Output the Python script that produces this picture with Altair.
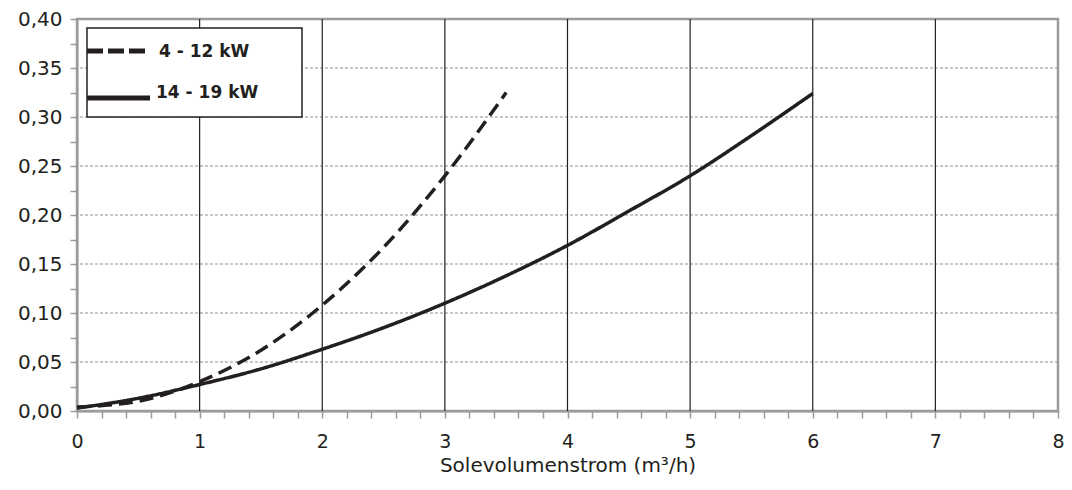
import altair as alt
import pandas as pd

# ---- data ----
series_names = ["4 - 12 kW", "14 - 19 kW"]

x_small = [0.0, 0.5, 1.0, 1.5, 2.0, 2.5, 3.0, 3.5]
y_small = [0.004, 0.010, 0.030, 0.062, 0.108, 0.167, 0.240, 0.325]

x_large = [0.0, 0.5, 1.0, 1.5, 2.0, 2.5, 3.0, 3.5, 4.0, 4.5, 5.0, 5.5, 6.0]
y_large = [0.003, 0.013, 0.027, 0.043, 0.063, 0.085, 0.110, 0.138, 0.169, 0.204, 0.240, 0.281, 0.324]

x_ticks = [round(i * 0.2, 1) for i in range(41)]
y_ticks = [round(i * 0.025, 3) for i in range(17)]
x_grid = [1, 2, 3, 4, 5, 6, 7]
y_grid = [0.05, 0.10, 0.15, 0.20, 0.25, 0.30, 0.35]

lines_df = pd.concat([
    pd.DataFrame({"x": x_small, "y": y_small, "series": series_names[0]}),
    pd.DataFrame({"x": x_large, "y": y_large, "series": series_names[1]}),
])

FONT = "DejaVu Sans"
INK = "#231f20"
GRAY = "#9b9b9b"

x_axis = alt.Axis(
    values=x_ticks,
    labelExpr="abs(datum.value - round(datum.value)) < 0.001 ? format(datum.value, 'd') : ''",
    title="Solevolumenstrom (m³/h)",
    grid=False,
    tickSize=7,
    labelPadding=14,
    titlePadding=4,
    labelFontSize=19,
    labelOverlap=False,
    labelFlush=False,
)
y_axis = alt.Axis(
    values=y_ticks,
    labelExpr="round(datum.value * 40) % 2 == 0 ? replace(format(datum.value, '.2f'), '.', ',') : ''",
    title=None,
    grid=False,
    tickSize=7,
    labelPadding=8,
    labelFontSize=20,
    labelOverlap=False,
    labelFlush=False,
)
x_scale = alt.Scale(domain=[0, 8], nice=False)
y_scale = alt.Scale(domain=[0, 0.4], nice=False)

hgrid = alt.Chart(pd.DataFrame({"y": y_grid})).mark_rule(
    color="#8f8f8f", strokeWidth=1, strokeDash=[3, 2]
).encode(y=alt.Y("y:Q", scale=y_scale, axis=y_axis))

vgrid = alt.Chart(pd.DataFrame({"x": x_grid})).mark_rule(
    color=INK, strokeWidth=1.2
).encode(x=alt.X("x:Q", scale=x_scale, axis=x_axis))

lines = alt.Chart(lines_df).mark_line(
    color=INK, strokeWidth=3.5, interpolate="monotone"
).encode(
    x=alt.X("x:Q", scale=x_scale, axis=x_axis),
    y=alt.Y("y:Q", scale=y_scale, axis=y_axis),
    strokeDash=alt.StrokeDash(
        "series:N",
        scale=alt.Scale(domain=series_names, range=[[14, 7], [1, 0]]),
        legend=None,
    ),
    detail="series:N",
)

legend_box = alt.Chart(pd.DataFrame({"k": [0]})).mark_rect(
    fill="white", stroke=INK, strokeWidth=1.5
).encode(x=alt.value(10), x2=alt.value(225), y=alt.value(9), y2=alt.value(98))

legend_dash = alt.Chart(pd.DataFrame({"k": [0]})).mark_rule(
    color=INK, strokeWidth=5, strokeDash=[16, 5]
).encode(x=alt.value(10), x2=alt.value(71), y=alt.value(32))

legend_solid = alt.Chart(pd.DataFrame({"k": [0]})).mark_rule(
    color=INK, strokeWidth=5
).encode(x=alt.value(10), x2=alt.value(73), y=alt.value(79))

legend_t1 = alt.Chart(pd.DataFrame({"k": [0]})).mark_text(
    align="left", baseline="middle", font=FONT, fontSize=17, fontWeight="bold", color=INK
).encode(x=alt.value(82), y=alt.value(33), text=alt.value(series_names[0]))

legend_t2 = alt.Chart(pd.DataFrame({"k": [0]})).mark_text(
    align="left", baseline="middle", font=FONT, fontSize=17, fontWeight="bold", color=INK
).encode(x=alt.value(79), y=alt.value(74), text=alt.value(series_names[1]))

chart = alt.layer(
    hgrid, vgrid, lines, legend_box, legend_dash, legend_solid, legend_t1, legend_t2
).properties(
    width=981,
    height=392,
    autosize=alt.AutoSizeParams(type="none"),
    padding={"left": 69, "top": 11, "right": 6, "bottom": 67},
).configure_view(
    stroke=GRAY, strokeWidth=2.5
).configure_axis(
    domainColor=GRAY,
    domainWidth=2,
    tickColor=GRAY,
    tickWidth=1.5,
    labelFont=FONT,
    labelColor=INK,
    titleFont=FONT,
    titleFontSize=20,
    titleFontWeight="normal",
    titleColor=INK,
)

chart.save("out.html", embed_options={"renderer": "svg", "actions": False})
